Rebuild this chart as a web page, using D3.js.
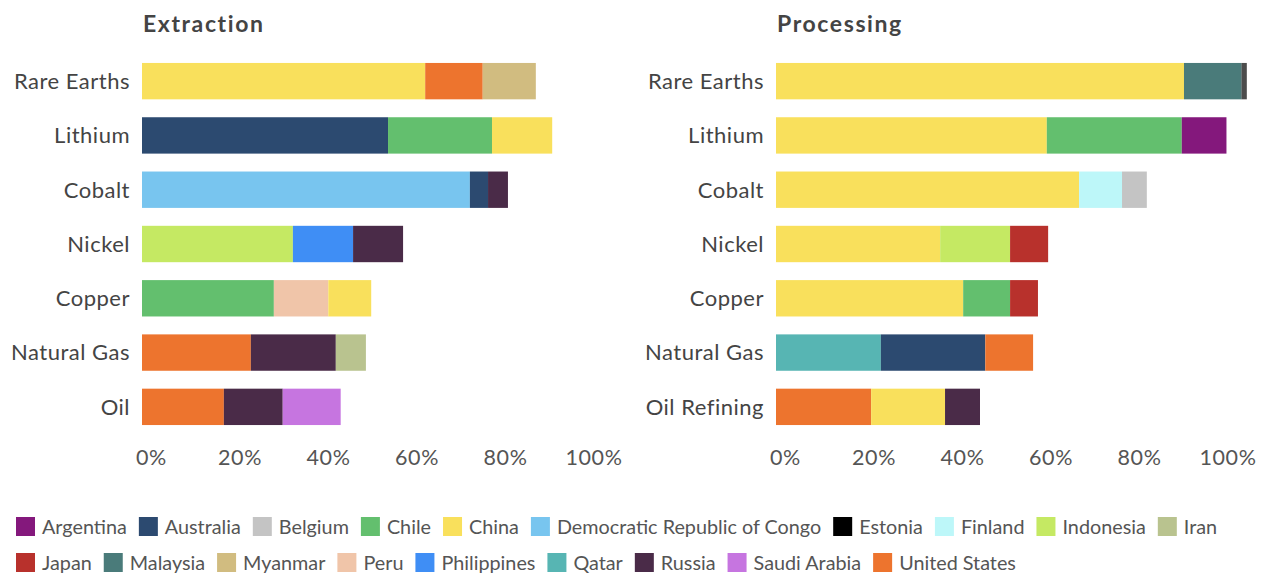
<!DOCTYPE html>
<html>
<head>
<meta charset="utf-8">
<script src="https://cdn.jsdelivr.net/npm/d3@7"></script>
<style>
  body { margin: 0; background: #fff; }
  svg { display: block; font-family: Lato, "Open Sans", sans-serif; }
</style>
</head>
<body>
<div id="viewPanel"></div>
<script>
// Legend order + colours
const countries = ["Argentina", "Australia", "Belgium", "Chile", "China", "Democratic Republic of Congo",
  "Estonia", "Finland", "Indonesia", "Iran", "Japan", "Malaysia", "Myanmar", "Peru", "Philippines",
  "Qatar", "Russia", "Saudi Arabia", "United States"];
const countryColors = ["#84187c", "#2c4a70", "#c4c4c4", "#63bf6e", "#f9e05c", "#78c5ef",
  "#000000", "#bdf7f9", "#c5e963", "#b9c38f", "#b8312c", "#4a7b7a", "#d1bc80", "#f0c5a9", "#3f8ef5",
  "#57b5b3", "#4a2b48", "#c675e0", "#ed742e"];

// Extraction panel
const extractionRows = ["Rare Earths", "Lithium", "Cobalt", "Nickel", "Copper", "Natural Gas", "Oil"];
const extractionCountries = [
  ["China", "United States", "Myanmar"],
  ["Australia", "Chile", "China"],
  ["Democratic Republic of Congo", "Australia", "Russia"],
  ["Indonesia", "Philippines", "Russia"],
  ["Chile", "Peru", "China"],
  ["United States", "Russia", "Iran"],
  ["United States", "Russia", "Saudi Arabia"]
];
const extractionShares = [
  [64, 13, 12],
  [55.6, 23.5, 13.6],
  [74.1, 4.1, 4.5],
  [34.1, 13.6, 11.3],
  [29.8, 12.3, 9.7],
  [24.6, 19.2, 6.8],
  [18.5, 13.3, 13.1]
];

// Processing panel
const processingRows = ["Rare Earths", "Lithium", "Cobalt", "Nickel", "Copper", "Natural Gas", "Oil Refining"];
const processingCountries = [
  ["China", "Malaysia", "Estonia"],
  ["China", "Chile", "Argentina"],
  ["China", "Finland", "Belgium"],
  ["China", "Indonesia", "Japan"],
  ["China", "Chile", "Japan"],
  ["Qatar", "Australia", "United States"],
  ["United States", "China", "Russia"]
];
const processingShares = [
  [92.2, 13, 1.2],
  [61.2, 30.5, 10.1],
  [68.5, 9.7, 5.6],
  [37.1, 15.8, 8.6],
  [42.3, 10.6, 6.3],
  [23.7, 23.6, 10.8],
  [21.5, 16.7, 7.9]
];

const xTicks = [0, 20, 40, 60, 80, 100];

const width = 1269;
const height = 573;
const textColor = '#444';

const color = d3.scaleOrdinal().domain(countries).range(countryColors);

const svg = d3.select('#viewPanel')
    .append('svg')
    .attr('width', width)
    .attr('height', height);

function drawPanel(title, rows, who, shares, left) {
    const x = d3.scaleLinear().domain([0, 100]).range([left, left + 442.5]);
    const y = d3.scaleBand().domain(rows).range([54, 434]).paddingInner(0.33).paddingOuter(0.165);

    const g = svg.append('g');

    g.append('text')
        .attr('x', left + 1)
        .attr('y', 32)
        .attr('font-size', 23)
        .attr('font-weight', 700)
        .attr('letter-spacing', 1.6)
        .attr('fill', textColor)
        .text(title);

    // stack each row
    rows.forEach((row, i) => {
        let acc = 0;
        const segs = shares[i].map((v, j) => {
            const s = { country: who[i][j], x0: acc, x1: acc + v };
            acc += v;
            return s;
        });
        g.append('g')
            .selectAll('rect')
            .data(segs)
            .join('rect')
            .attr('x', d => x(d.x0))
            .attr('y', y(row))
            .attr('width', d => x(d.x1) - x(d.x0))
            .attr('height', y.bandwidth())
            .attr('fill', d => color(d.country))
            .attr('fill-opacity', d => d.country === 'Estonia' ? 0.7 : 1);
    });

    // category labels
    g.append('g')
        .selectAll('text')
        .data(rows)
        .join('text')
        .attr('x', left - 12)
        .attr('y', d => y(d) + y.bandwidth() / 2)
        .attr('dy', '0.36em')
        .attr('text-anchor', 'end')
        .attr('font-size', 22)
        .attr('letter-spacing', 0.5)
        .attr('fill', textColor)
        .text(d => d);

    const axis = g.append('g')
        .attr('transform', 'translate(0,465)')
        .call(d3.axisBottom(x).tickValues(xTicks).tickFormat(d => d + '%').tickSize(0).tickPadding(0));
    axis.select('.domain').remove();
    axis.selectAll('text')
        .attr('dx', 9)
        .attr('dy', 0)
        .attr('font-size', 21.5)
        .attr('letter-spacing', 0.6)
        .attr('font-family', 'Lato, sans-serif')
        .attr('fill', '#555');
}

drawPanel('Extraction', extractionRows, extractionCountries, extractionShares, 142);
drawPanel('Processing', processingRows, processingCountries, processingShares, 776);

// Legend, flowing left to right
const legend = svg.append('g').attr('font-size', 19.8).attr('fill', '#555');
let lx = 16, ly = 526.5;
countries.forEach(c => {
    const item = legend.append('g');
    item.append('rect')
        .attr('x', 0).attr('y', -9.5)
        .attr('width', 19).attr('height', 19)
        .attr('fill', color(c));
    const t = item.append('text')
        .attr('x', 26).attr('dy', '0.36em')
        .text(c);
    const w = 26 + t.node().getComputedTextLength() + 12;
    if (lx + w > width - 10) { lx = 16; ly += 36; }
    item.attr('transform', `translate(${lx},${ly})`);
    lx += w;
});
</script>
</body>
</html>
